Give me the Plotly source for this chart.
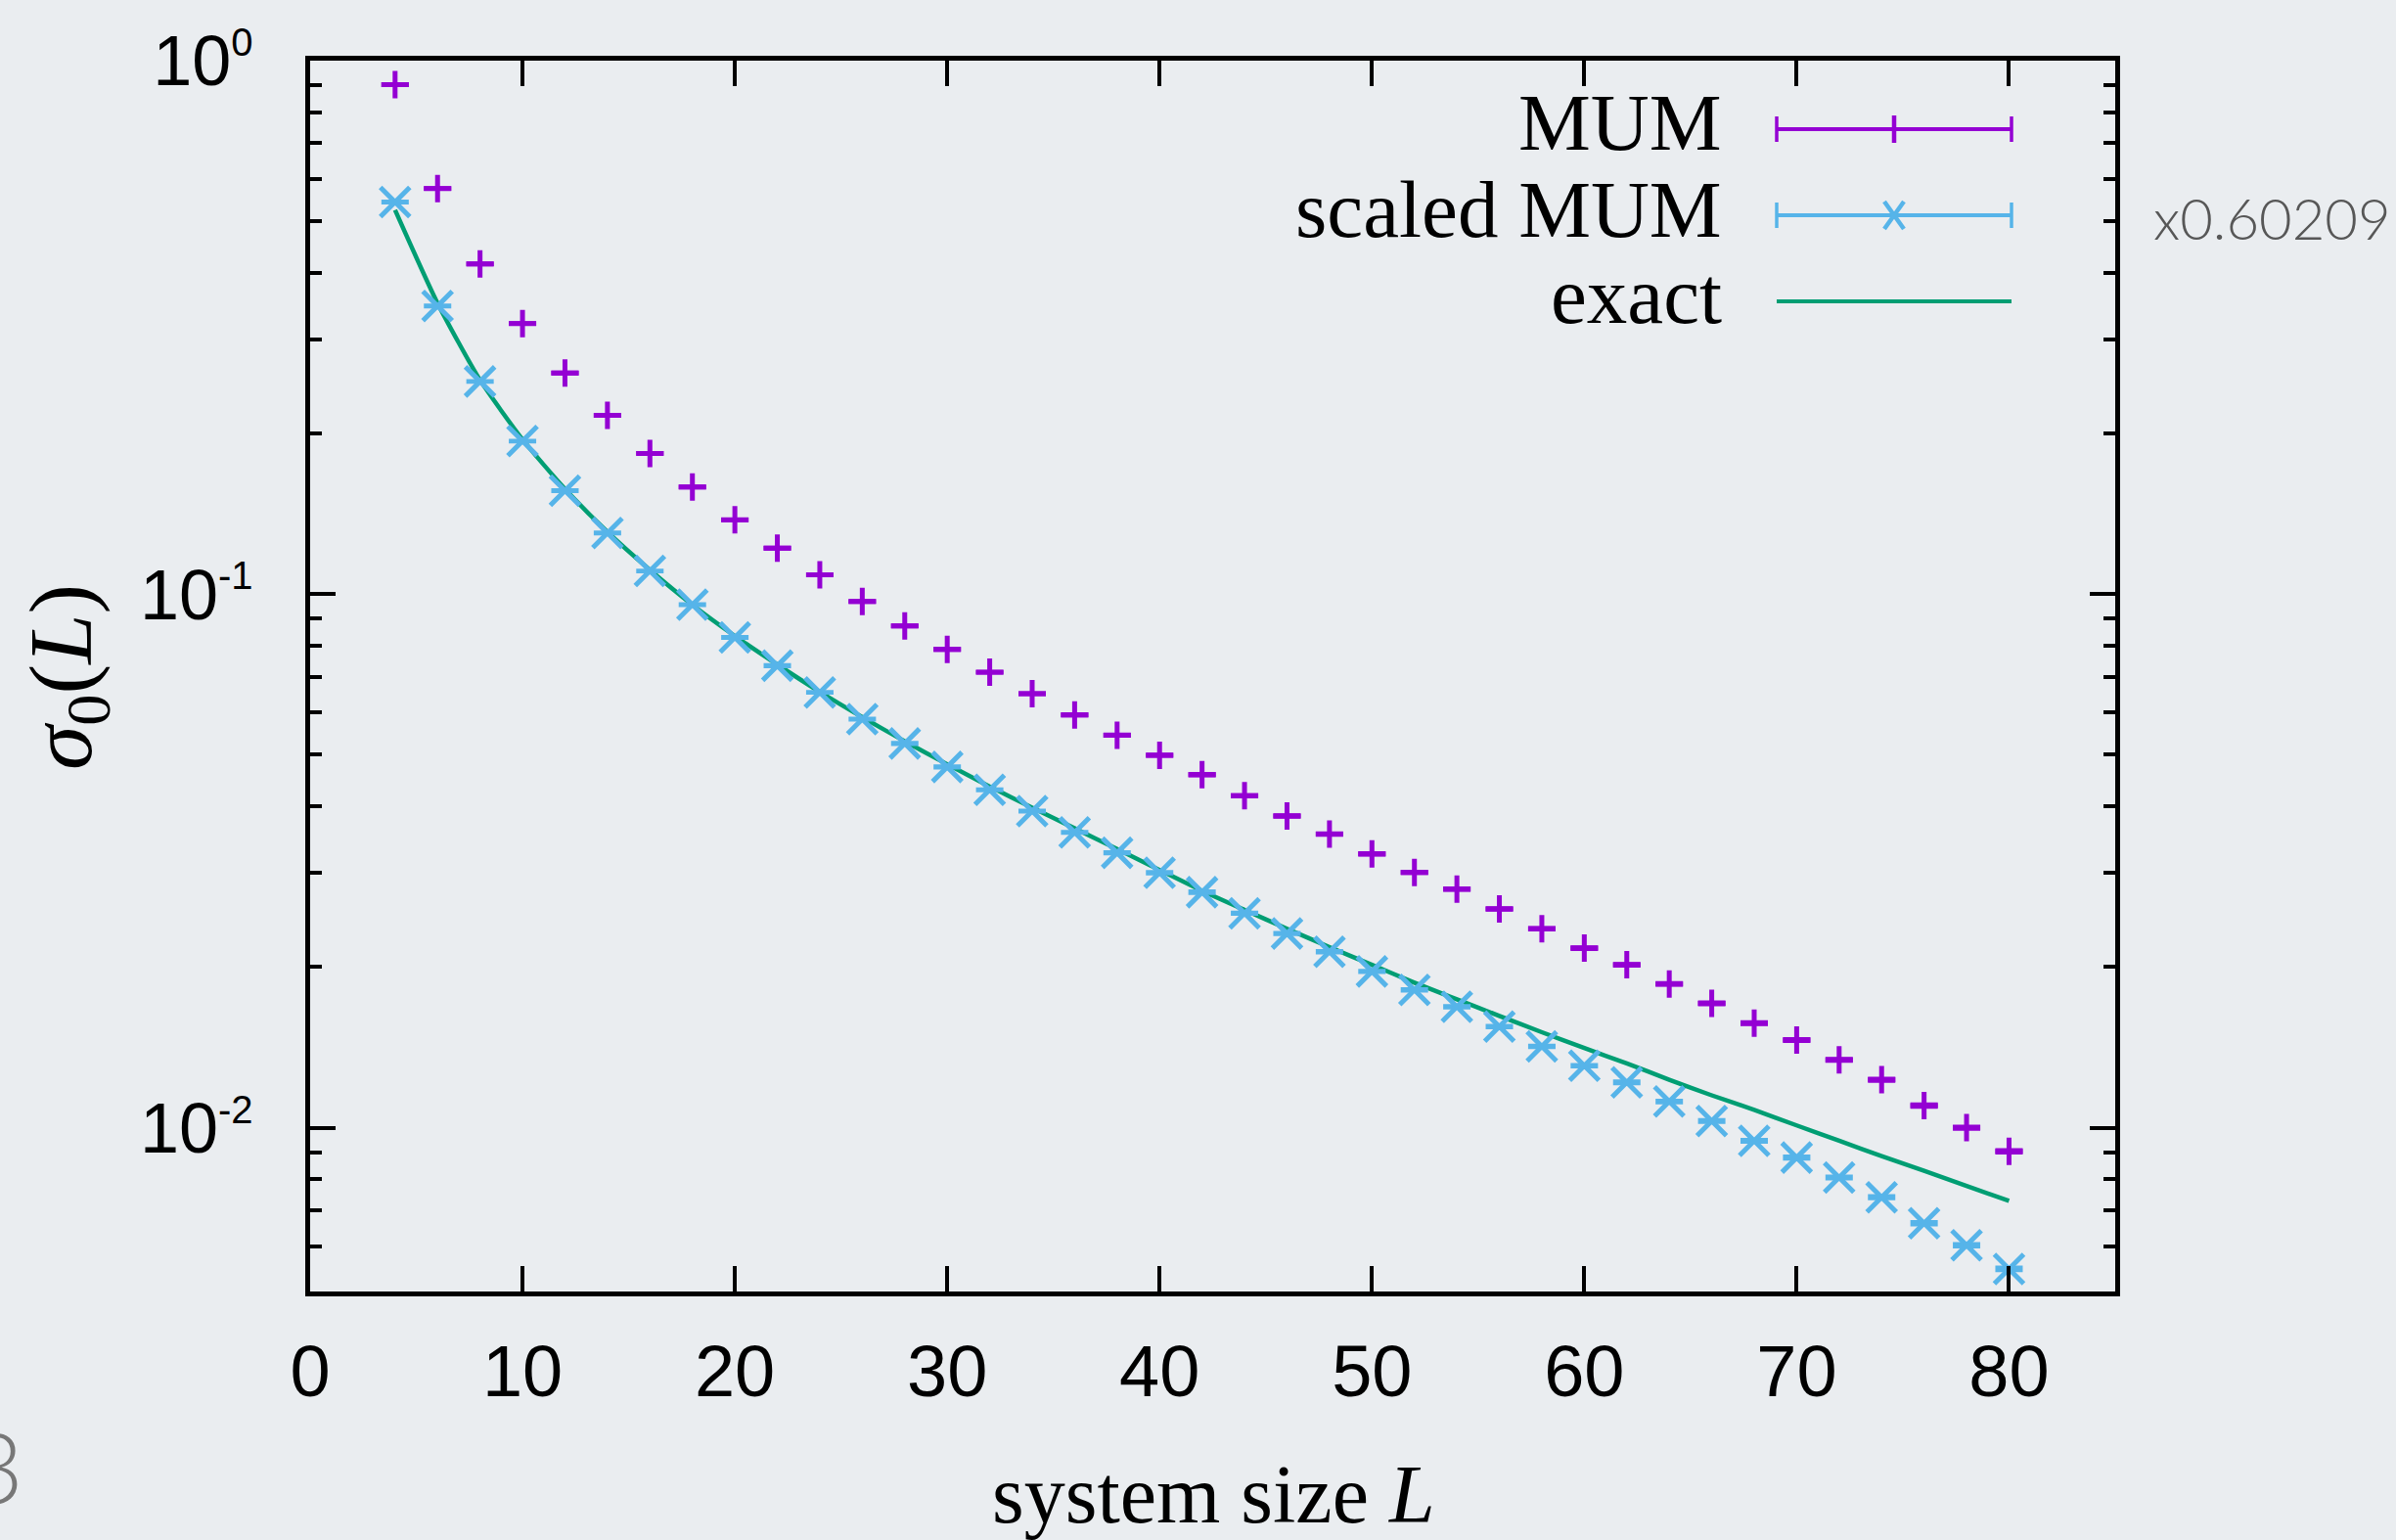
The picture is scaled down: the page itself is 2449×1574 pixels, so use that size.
import plotly.graph_objects as go

# Canvas and plot-frame geometry (pixels)
W, H = 2449, 1574
FRAME_L, FRAME_R, FRAME_T, FRAME_B = 317, 2162, 62, 1320

# ---- data -------------------------------------------------------------
system_size = list(range(4, 81, 2))

mum = [0.902, 0.576, 0.416, 0.3216, 0.2597, 0.2163, 0.1836, 0.1588, 0.1378,
       0.1220, 0.1087, 0.0969, 0.0872, 0.0788, 0.0714, 0.0651, 0.0594, 0.0544,
       0.0499, 0.0459, 0.0419, 0.0384, 0.0355, 0.0326, 0.0301, 0.0280, 0.0257,
       0.0236, 0.0217, 0.0202, 0.0186, 0.0171, 0.0157, 0.0146, 0.0134, 0.0123,
       0.0110, 0.0100, 0.00903]

mum_err = [0.0027, 0.0017, 0.0012, 0.0009, 0.0008, 0.0006, 0.0005, 0.0005,
           0.0004, 0.0004, 0.0003, 0.0003, 0.0003, 0.0003, 0.0002, 0.0002,
           0.0002, 0.0002, 0.0002, 0.0002, 0.00015, 0.00015, 0.00014, 0.00013,
           0.00012, 0.00012, 0.00011, 0.0001, 0.0001, 0.0001, 0.00009, 0.00009,
           0.00008, 0.00008, 0.00007, 0.00007, 0.00007, 0.00006, 0.00006]

scale_factor = 0.60209

exact = [0.525, 0.351, 0.252, 0.195, 0.1575, 0.1308, 0.1110, 0.0955, 0.0835,
         0.0738, 0.0656, 0.0588, 0.0530, 0.0480, 0.0436, 0.0398, 0.0364, 0.0333,
         0.0304, 0.0278, 0.0256, 0.0236, 0.0218, 0.0202, 0.0187, 0.0174, 0.0162,
         0.0151, 0.0141, 0.0132, 0.0123, 0.0115, 0.0108, 0.0101, 0.00945,
         0.00885, 0.00830, 0.00778, 0.00729]

x_tick_vals = [0, 10, 20, 30, 40, 50, 60, 70, 80]
y_tick_vals = [1, 0.1, 0.01]
y_tick_exponents = ["0", "-1", "-2"]
y_minor_vals = [0.006, 0.007, 0.008, 0.009,
                0.02, 0.03, 0.04, 0.05, 0.06, 0.07, 0.08, 0.09,
                0.2, 0.3, 0.4, 0.5, 0.6, 0.7, 0.8, 0.9]

series_names = ["MUM", "scaled MUM", "exact"]
series_colors = ["#9400d3", "#56b4e9", "#009e73"]

scaled_mum = [v * scale_factor for v in mum]
scaled_err = [e * scale_factor for e in mum_err]

SERIF = "Liberation Serif, Times New Roman, serif"
SANS = "Liberation Sans, Arial, sans-serif"
LIGHT = "Lato, Open Sans, sans-serif"
BG = "#eaedf0"

y_tick_text = ["10<sup><span style='font-size:40px'>%s</span></sup>" % e
               for e in y_tick_exponents]


def px(x):
    return (x - FRAME_L) / (FRAME_R - FRAME_L)


def py(y):
    return (FRAME_B - y) / (FRAME_B - FRAME_T)


fig = go.Figure()

fig.add_trace(go.Scatter(
    x=system_size, y=exact, mode="lines", name=series_names[2],
    line=dict(color=series_colors[2], width=4.5, shape="spline", smoothing=0.6),
))
fig.add_trace(go.Scatter(
    x=system_size, y=mum, mode="markers", name=series_names[0],
    marker=dict(symbol="cross-thin", size=20,
                line=dict(color=series_colors[0], width=5)),
    error_y=dict(type="data", array=mum_err, color=series_colors[0],
                 thickness=3.5, width=14),
))
fig.add_trace(go.Scatter(
    x=system_size, y=scaled_mum, mode="markers", name=series_names[1],
    marker=dict(symbol="x-thin", size=30,
                line=dict(color=series_colors[1], width=5)),
    error_y=dict(type="data", array=scaled_err, color=series_colors[1],
                 thickness=3.5, width=14),
))

shapes = []
annotations = []

# ---- key drawn by hand (errorbar-style samples) --------------------------
key_rows = [132, 220, 308]
key_text_y = [125, 214, 302]
key_x0, key_x1, key_xm = 1816, 2056, 1936
cap = 13
for i, (name, col) in enumerate(zip(series_names, series_colors)):
    yrow = key_rows[i]
    shapes.append(dict(type="line", xref="paper", yref="paper",
                       x0=px(key_x0), x1=px(key_x1), y0=py(yrow), y1=py(yrow),
                       line=dict(color=col, width=4)))
    if i < 2:
        for xe in (key_x0, key_x1):
            shapes.append(dict(type="line", xref="paper", yref="paper",
                               x0=px(xe), x1=px(xe),
                               y0=py(yrow - cap), y1=py(yrow + cap),
                               line=dict(color=col, width=3.5)))
    if i == 0:
        shapes.append(dict(type="line", xref="paper", yref="paper",
                           x0=px(key_xm), x1=px(key_xm),
                           y0=py(yrow - cap - 1), y1=py(yrow + cap + 1),
                           line=dict(color=col, width=4.5)))
    if i == 1:
        for s in (1, -1):
            shapes.append(dict(type="line", xref="paper", yref="paper",
                               x0=px(key_xm - 10), x1=px(key_xm + 10),
                               y0=py(yrow - s * 14), y1=py(yrow + s * 14),
                               line=dict(color=col, width=4.5)))
    annotations.append(dict(text=name, xref="paper", yref="paper",
                            x=px(1762), y=py(key_text_y[i]),
                            xanchor="right", yanchor="middle", showarrow=False,
                            font=dict(family=SERIF, size=83, color="black")))

# axis titles
annotations.append(dict(text="system size <i>L</i>", xref="paper", yref="paper",
                        x=px(1240), y=py(1527), xanchor="center",
                        yanchor="middle", showarrow=False,
                        font=dict(family=SERIF, size=84, color="black")))
annotations.append(dict(text="<i>σ</i><sub>0</sub>(<i>L</i>)", xref="paper",
                        yref="paper", x=px(68), y=py(692), xanchor="center",
                        yanchor="middle", textangle=-90, showarrow=False,
                        font=dict(family=SERIF, size=92, color="black")))
# scale factor note and page number
annotations.append(dict(text="x0.60209", xref="paper", yref="paper",
                        x=px(2322), y=py(222), xanchor="center",
                        yanchor="middle", showarrow=False,
                        font=dict(family=LIGHT, size=58, color="#575757",
                                  weight=300)))
annotations.append(dict(text="3", xref="paper", yref="paper",
                        x=px(26), y=py(1498), xanchor="right",
                        yanchor="middle", showarrow=False,
                        font=dict(family=LIGHT, size=100, color="#777777",
                                  weight=300)))

fig.update_layout(
    width=W, height=H,
    margin=dict(l=FRAME_L, r=W - FRAME_R, t=FRAME_T, b=H - FRAME_B, pad=0),
    paper_bgcolor=BG, plot_bgcolor=BG,
    showlegend=False,
    shapes=shapes, annotations=annotations,
)

fig.update_xaxes(
    range=[0, 85], tickvals=x_tick_vals,
    showline=True, linewidth=5, linecolor="black", mirror="allticks",
    ticks="inside", ticklen=26, tickwidth=4, tickcolor="black",
    showgrid=False, zeroline=False,
    tickfont=dict(family=SANS, size=74, color="black"),
    ticklabelstandoff=13,
)
fig.update_yaxes(
    type="log", range=[-2.307, 0],
    tickvals=y_tick_vals, ticktext=y_tick_text,
    showline=True, linewidth=5, linecolor="black", mirror="allticks",
    ticks="inside", ticklen=26, tickwidth=4, tickcolor="black",
    minor=dict(tickvals=y_minor_vals, ticks="inside", ticklen=12,
               tickwidth=4, tickcolor="black", showgrid=False),
    showgrid=False, zeroline=False,
    tickfont=dict(family=SANS, size=72, color="black"),
    ticklabelstandoff=39,
)

fig.write_html("out.html")
